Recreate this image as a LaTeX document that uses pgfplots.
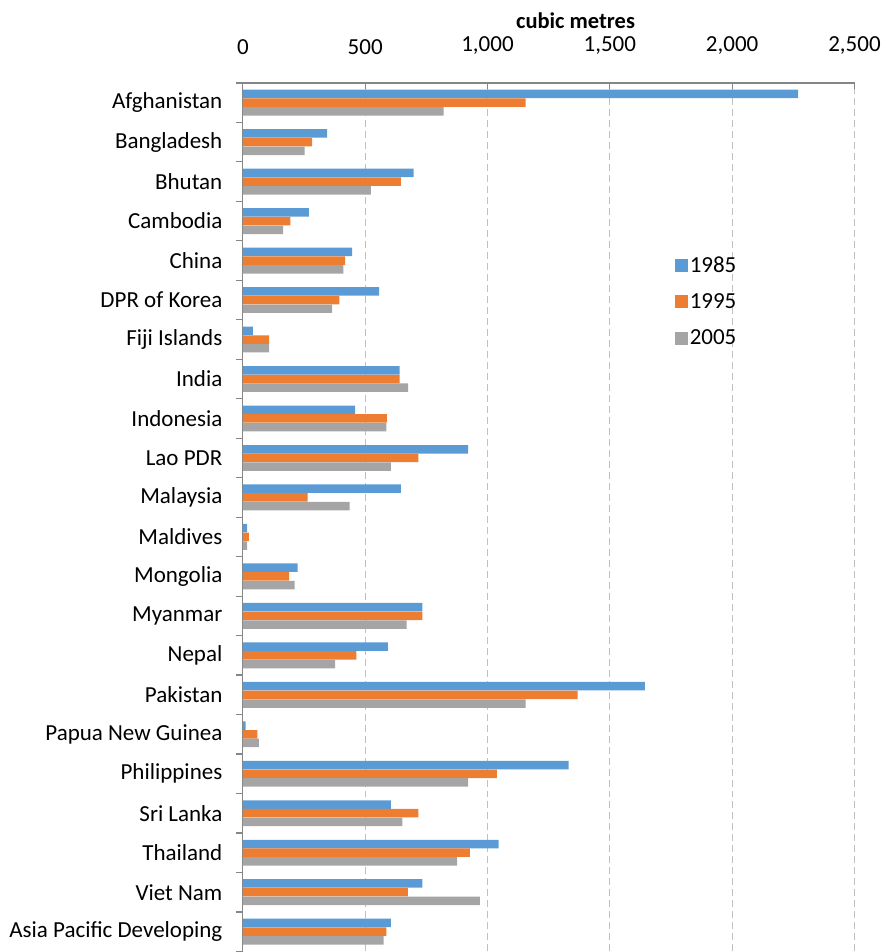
\documentclass[border=0pt]{standalone}
\usepackage{fontspec}
\setmainfont{Carlito}
\usepackage{pgfplots}
\usepackage{pgfplotstable}
\pgfplotsset{compat=1.18}

\definecolor{cBlue}{HTML}{5B9BD5}
\definecolor{cOrange}{HTML}{ED7D31}
\definecolor{cGrey}{HTML}{A5A5A5}
\definecolor{cAxis}{HTML}{868686}
\definecolor{cGrid}{HTML}{C0C0C0}

% y: Afghanistan on top (21) down to Asia Pacific Developing (0)
% a = 1985, b = 1995, c = 2005 (cubic metres)
\pgfplotstableread{
y  a    b    c
21 2270 1156 821
20 345  283  253
19 698  646  523
18 270  194  165
17 447  418  411
16 557  395  365
15 41   107  107
14 641  641  676
13 459  589  587
12 921  717  605
11 646  265  436
10 18   25   18
9  224  189  212
8  734  734  669
7  593  464  377
6  1643 1368 1156
5  11   59   66
4  1332 1038 921
3  605  717  652
2  1045 928  876
1  734  675  969
0  605  587  575
}\datatable

\begin{document}
\begin{tikzpicture}
\begin{axis}[
  name=ax,
  scale only axis,
  width=612pt, height=869pt,
  xbar, bar width=8.5pt,
  xmin=0, xmax=2500, ymin=-0.5, ymax=21.5,
  axis x line=top, axis y line=left,
  axis line style={-, cAxis, line width=1.2pt},
  tick align=outside,
  major tick length=7pt,
  xtick={0,500,...,2500},
  xtick style={cAxis, line width=1.2pt, yshift=-6pt},
  ytick={-0.5,0.5,...,21.5},
  ytick style={cAxis, line width=1.2pt},
  yticklabels={Asia Pacific Developing, Viet Nam, Thailand, Sri Lanka, Philippines,
    Papua New Guinea, Pakistan, Nepal, Myanmar, Mongolia, Maldives, Malaysia,
    Lao PDR, Indonesia, India, Fiji Islands, DPR of Korea, China, Cambodia,
    Bhutan, Bangladesh, Afghanistan, {}},
  yticklabel style={yshift=19.75pt, xshift=-10pt},
  scaled x ticks=false,
  /pgf/number format/.cd, 1000 sep={,}, assume math mode=true, /pgfplots/.cd,
  tick label style={font=\fontsize{23}{27}\selectfont, text=black},
  xticklabel style={yshift=18pt},
  xmajorgrids=true,
  major grid style={cGrid, line width=1.2pt, dash pattern=on 7pt off 4pt},
  xlabel={\textbf{cubic metres}},
  xlabel style={at={(rel axis cs:0.544,1)}, anchor=base, yshift=54pt,
    font=\fontsize{22.5}{27}\selectfont},
  legend style={at={(rel axis cs:0.701,0.805)}, anchor=north west, draw=none,
    fill=none, font=\fontsize{23}{27}\selectfont, row sep=16pt},
  legend cell align=left,
  legend image code/.code={\path[#1, draw=none] (0pt,-6.5pt) rectangle (13pt,6.5pt);},
]
\addplot[fill=cBlue, draw=none, bar shift=8.7pt] table[x=a, y=y]{\datatable};
\addplot[fill=cOrange, draw=none, bar shift=0pt] table[x=b, y=y]{\datatable};
\addplot[fill=cGrey, draw=none, bar shift=-8.7pt] table[x=c, y=y]{\datatable};
\legend{1985, 1995, 2005}
\end{axis}
\path ([xshift=-243pt]ax.south west) rectangle ([xshift=27pt, yshift=83pt]ax.north east);
\end{tikzpicture}
\end{document}
